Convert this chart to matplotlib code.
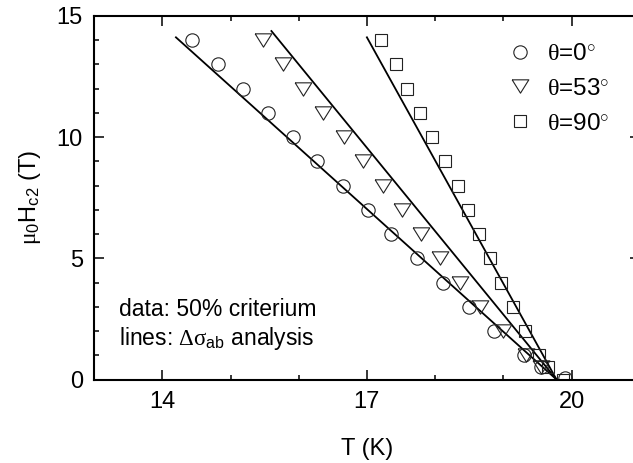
import matplotlib
matplotlib.use("Agg")
import matplotlib.pyplot as plt
from matplotlib.ticker import MultipleLocator, FixedLocator
import numpy as np

plt.rcParams['font.family'] = ['Liberation Sans', 'DejaVu Sans']
plt.rcParams['mathtext.fontset'] = 'custom'
plt.rcParams['mathtext.rm'] = 'Liberation Serif'
plt.rcParams['mathtext.it'] = 'Liberation Serif'
plt.rcParams['mathtext.sf'] = 'Liberation Sans'
plt.rcParams['mathtext.default'] = 'rm'

# Data: theta = 0 deg (circles)
T0 = [14.44, 14.81, 15.19, 15.55, 15.92, 16.27, 16.65, 17.01, 17.36, 17.74,
      18.12, 18.49, 18.87, 19.31, 19.55, 19.90]
H0 = [14, 13, 12, 11, 10, 9, 8, 7, 6, 5, 4, 3, 2, 1, 0.5, 0.05]
# theta = 53 deg (triangles)
T53 = [15.47, 15.77, 16.06, 16.36, 16.66, 16.95, 17.24, 17.52, 17.79, 18.07,
       18.37, 18.66, 18.99, 19.34, 19.55]
H53 = [14, 13, 12, 11, 10, 9, 8, 7, 6, 5, 4, 3, 2, 1, 0.5]
# theta = 90 deg (squares)
T90 = [17.20, 17.42, 17.59, 17.78, 17.96, 18.15, 18.33, 18.48, 18.64, 18.81,
       18.97, 19.14, 19.32, 19.53, 19.66, 19.87]
H90 = [14, 13, 12, 11, 10, 9, 8, 7, 6, 5, 4, 3, 2, 1, 0.5, 0.0]

# Fit lines (delta sigma_ab analysis): endpoints
L0_T = [14.20, 19.78]
L0_H = [14.12, 0.0]
L53_T = [15.60, 19.78]
L53_H = [14.38, 0.0]
L90_T = [17.00, 19.78]
L90_H = [14.12, 0.0]

xticks_major = [14, 17, 20]
yticks_major = [0, 5, 10, 15]
labels = [r'$\theta$=0$^{\circ}$', r'$\theta$=53$^{\circ}$', r'$\theta$=90$^{\circ}$']

fig = plt.figure(figsize=(6.33, 4.63), dpi=100)
ax = fig.add_axes([94.1/633, (463-379.5)/463, 545.6/633, 363.5/463])

tri = [(-1, 0.8), (1, 0.8), (0, -0.8), (-1, 0.8)]
mec = '#222222'
ax.plot(L0_T, L0_H, color='black', lw=1.3)
ax.plot(L53_T, L53_H, color='black', lw=1.3)
ax.plot(L90_T, L90_H, color='black', lw=1.3)
ax.plot(T0, H0, ls='none', marker='o', ms=9.6, mfc='none', mec=mec, mew=0.8, label=labels[0])
ax.plot(T53, H53, ls='none', marker=tri, ms=12, mfc='none', mec=mec, mew=0.8, label=labels[1])
ax.plot(T90, H90, ls='none', marker='s', ms=9.1, mfc='none', mec=mec, mew=0.8, label=labels[2])

ax.set_xlim(13, 21)
ax.set_ylim(0, 15)
ax.xaxis.set_major_locator(FixedLocator(xticks_major))
ax.xaxis.set_minor_locator(MultipleLocator(1))
ax.yaxis.set_major_locator(FixedLocator(yticks_major))
ax.yaxis.set_minor_locator(MultipleLocator(1))
ax.tick_params(which='both', direction='in', top=True, right=True, width=1.1)
ax.tick_params(which='major', length=7.5, labelsize=17, pad=8)
ax.tick_params(which='minor', length=3.8)
for s in ax.spines.values():
    s.set_linewidth(1.5)

ax.set_xlabel('T (K)', fontsize=17, labelpad=18)
ax.set_ylabel(r'$\mu_{\mathsf{0}}$H$_{\mathsf{c2}}$ (T)', fontsize=17, labelpad=10)

ax.text(0.0456, 0.176, 'data: 50% criterium', transform=ax.transAxes,
        fontsize=16.5, va='baseline', ha='left')
ax.text(0.0456, 0.0949, r'lines: $\Delta\sigma_{\mathsf{ab}}$ analysis', transform=ax.transAxes,
        fontsize=16.5, va='baseline', ha='left')

ax.legend(loc='upper left', bbox_to_anchor=(0.758, 0.925), frameon=False,
          fontsize=17.5, numpoints=1, handlelength=1.0, handletextpad=0.6,
          borderpad=0, borderaxespad=0, labelspacing=0.52)

fig.savefig('out.png', dpi=100)
